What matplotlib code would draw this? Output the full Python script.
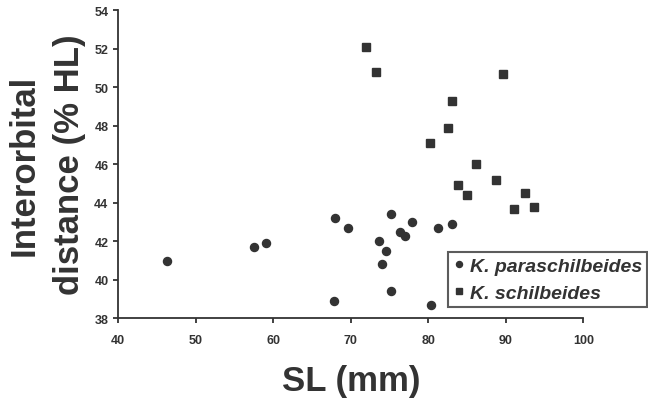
#!/usr/bin/env python3
"""Interorbital distance vs SL scatter for two Kryptopterus species."""

import matplotlib
matplotlib.use("Agg")
import matplotlib.pyplot as plt

plt.rcParams['font.family'] = ['Liberation Sans', 'DejaVu Sans']

INK = '#333333'

# K. paraschilbeides (circles)
para_sl = [46.3, 57.5, 59.0, 68.0, 67.8, 69.6, 73.7, 74.6, 74.0, 75.2, 75.2,
           76.4, 77.0, 77.9, 81.2, 83.1, 80.4]
para_io = [41.0, 41.7, 41.9, 43.2, 38.9, 42.7, 42.0, 41.5, 40.8, 43.4, 39.4,
           42.5, 42.3, 43.0, 42.7, 42.9, 38.7]

# K. schilbeides (squares)
schil_sl = [71.9, 73.2, 89.7, 83.0, 82.5, 80.2, 86.1, 88.8, 83.8, 85.0, 92.5,
            91.0, 93.6]
schil_io = [52.1, 50.8, 50.7, 49.3, 47.9, 47.1, 46.0, 45.2, 44.9, 44.4, 44.5,
            43.7, 43.8]

xticks = [40, 50, 60, 70, 80, 90, 100]
yticks = [38, 40, 42, 44, 46, 48, 50, 52, 54]
ylabel_lines = ['Interorbital', 'distance (% HL)']


def main():
    W, H = 648, 402
    fig = plt.figure(figsize=(W / 100, H / 100), dpi=100)
    ax = fig.add_axes([118.3 / W, 1 - 319.3 / H, 465 / W, 308 / H])

    ax.plot(para_sl, para_io, 'o', color=INK, markersize=5.8, linestyle='none',
            label='K. paraschilbeides', clip_on=False)
    ax.plot(schil_sl, schil_io, 's', color=INK, markersize=6.3, linestyle='none',
            label='K. schilbeides', clip_on=False)

    ax.set_xlim(40, 100)
    ax.set_ylim(38, 54)
    ax.set_xticks(xticks)
    ax.set_yticks(yticks)

    for side in ('top', 'right'):
        ax.spines[side].set_visible(False)
    for side in ('left', 'bottom'):
        ax.spines[side].set_color(INK)
        ax.spines[side].set_linewidth(1.3)

    ax.tick_params(axis='both', direction='out', length=3.6, width=1.3,
                   color=INK, labelcolor=INK, labelsize=9)
    ax.tick_params(axis='x', pad=8)
    ax.tick_params(axis='y', pad=3.5)
    for lbl in ax.get_xticklabels() + ax.get_yticklabels():
        lbl.set_fontweight('bold')

    ax.set_xlabel('SL (mm)', fontsize=25, fontweight='bold', color=INK,
                  labelpad=13)

    # y label as two rotated lines, placed by their baselines
    for text, xb in zip(ylabel_lines, [33.5, 78.5]):
        fig.text(xb / W, 1 - 165 / H, text, rotation=90, rotation_mode='anchor',
                 ha='center', va='baseline', fontsize=25, fontweight='bold',
                 color=INK)

    leg = ax.legend(loc='upper left', bbox_to_anchor=(448.3 / W, 1 - 253.3 / H),
                    bbox_transform=fig.transFigure, frameon=True, fancybox=False,
                    borderaxespad=0, borderpad=0.25, handlelength=0.55,
                    handletextpad=0.3, labelspacing=0.5, markerscale=0.75,
                    prop={'size': 14, 'weight': 'bold', 'style': 'italic'})
    leg.get_frame().set_edgecolor(INK)
    leg.get_frame().set_linewidth(1.5)
    for t in leg.get_texts():
        t.set_color(INK)

    fig.savefig('out.png', dpi=100, facecolor='white')
    plt.close(fig)


if __name__ == "__main__":
    main()
